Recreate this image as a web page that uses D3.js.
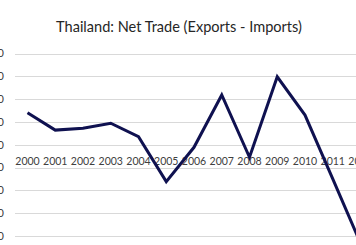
<!DOCTYPE html>
<html>
<head>
<meta charset="utf-8">
<script src="https://cdn.jsdelivr.net/npm/d3@7"></script>
<style>
  html, body { margin: 0; padding: 0; background: #ffffff; overflow: hidden; }
  svg { display: block; }
</style>
</head>
<body>
<svg id="chart" width="356" height="245"></svg>
<script>
const title = "Thailand: Net Trade (Exports - Imports)";
const years = ["2000","2001","2002","2003","2004","2005","2006","2007","2008","2009","2010","2011","2012"];
const netTrade = [7000, 3200, 3600, 4700, 1750, -8100, -570, 10900, -2760, 14900, 6500, -7500, -21600];
const yTicks = [20000, 15000, 10000, 5000, 0, -5000, -10000, -15000, -20000, -25000];

const W = 356, H = 245;
const svg = d3.select("#chart");
const font = "Lato, 'Open Sans', sans-serif";

// plot geometry (plot area extends past the visible crop on the right and bottom)
const plotLeft = 15, plotRight = 374, plotTop = 53.5, step = 22.8;

const x = d3.scalePoint().domain(years).range([27.5, 27.5 + 12 * 27.75]);
const y = d3.scaleLinear().domain([20000, -25000]).range([plotTop, plotTop + 9 * step]);

// gridlines
svg.append("g")
  .selectAll("line")
  .data(yTicks)
  .join("line")
  .attr("x1", plotLeft).attr("x2", plotRight)
  .attr("y1", d => Math.round(y(d)) + 0.5)
  .attr("y2", d => Math.round(y(d)) + 0.5)
  .attr("stroke", "#d9d9d9")
  .attr("stroke-width", 1);

// y-axis labels (mostly cut off by the crop, as in the reference)
const fmt = d3.format(",");
svg.append("g")
  .selectAll("text")
  .data(yTicks)
  .join("text")
  .attr("x", 4)
  .attr("y", d => y(d))
  .attr("dy", "0.35em")
  .attr("text-anchor", "end")
  .attr("font-family", font)
  .attr("font-size", 11)
  .attr("fill", "#404040")
  .text(d => fmt(d));

// x-axis labels, placed just below the zero line
const xLab = svg.append("g")
  .selectAll("text")
  .data(years)
  .join("text")
  .attr("x", d => x(d))
  .attr("y", y(0) + 20.5)
  .attr("text-anchor", "middle")
  .attr("font-family", font)
  .attr("font-size", 11)
  .attr("fill", "#404040")
  .text(d => d);

// fit label font size so "2000" is about 24px wide
const w0 = xLab.node().getComputedTextLength();
if (w0 > 0) xLab.attr("font-size", 11 * 24.5 / w0);

// line
const line = d3.line()
  .x((d, i) => x(years[i]))
  .y(d => y(d));

svg.append("path")
  .datum(netTrade)
  .attr("d", line)
  .attr("fill", "none")
  .attr("stroke", "#0f1150")
  .attr("stroke-width", 3)
  .attr("stroke-linejoin", "miter")
  .attr("stroke-linecap", "butt");

// title
const t = svg.append("text")
  .attr("x", 179)
  .attr("y", 32)
  .attr("text-anchor", "middle")
  .attr("font-family", font)
  .attr("font-size", 14)
  .attr("fill", "#262626")
  .text(title);
const tw = t.node().getComputedTextLength();
if (tw > 0) t.attr("font-size", 14 * 246 / tw);
</script>
</body>
</html>
